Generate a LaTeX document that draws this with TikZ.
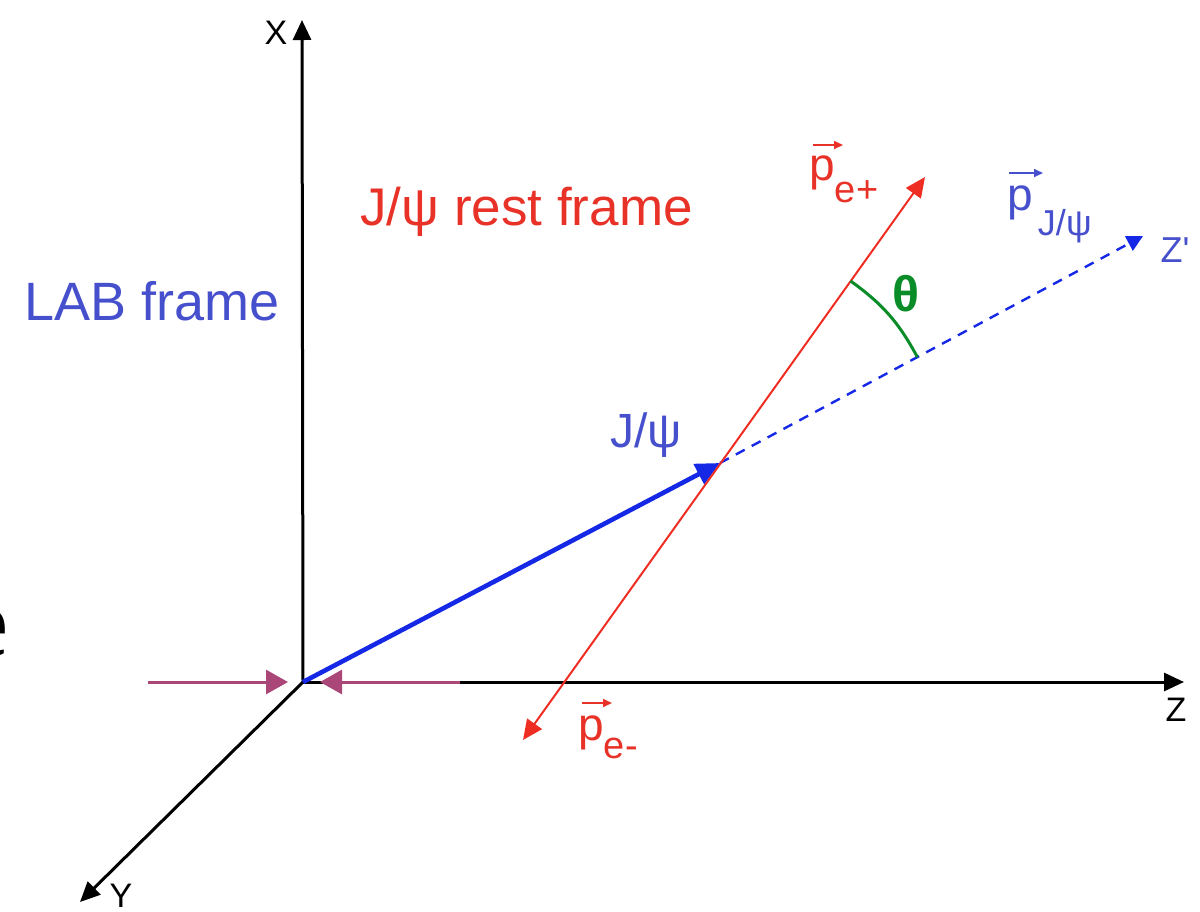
\documentclass[tikz,border=0pt]{standalone}
\usepackage{fontspec}
\setmainfont{Liberation Sans}
\newfontfamily\serifE{Liberation Serif}
\usetikzlibrary{arrows.meta,calc}
\definecolor{axred}{RGB}{238,45,35}
\definecolor{txtred}{RGB}{232,50,40}
\definecolor{labblue}{RGB}{70,80,205}
\definecolor{arrblue}{RGB}{20,40,230}
\definecolor{thgreen}{RGB}{10,140,40}
\definecolor{beampink}{RGB}{170,70,120}
\newcommand{\fs}[1]{\fontsize{#1}{#1}\selectfont}
\begin{document}
\begin{tikzpicture}[x=0.5pt,y=-0.5pt,
  axis/.style={black, line width=1.5pt, -{Triangle[length=10pt,width=9pt]}},
  beam/.style={beampink, line width=1.5pt, -{Triangle[length=11pt,width=12pt]}},
  jpsi/.style={arrblue, line width=2.3pt, -{Triangle[length=12pt,width=11pt]}},
  zprime/.style={arrblue, line width=1.2pt, dash pattern=on 5pt off 4pt, -{Triangle[length=8pt,width=8pt]}},
  elec/.style={axred, line width=1pt, {Triangle[length=10pt,width=9pt]}-{Triangle[length=10pt,width=9pt]}},
  vecarrow/.style={line width=0.8pt, -{Triangle[length=4.5pt,width=4pt]}},
  lbl/.style={inner sep=0pt, anchor=base west}
]
\useasboundingbox (0,0) rectangle (1200,911);
% points
\coordinate (O) at (303,682);
\coordinate (Xt) at (302,20);
\coordinate (Zt) at (1184,682);
\coordinate (Yt) at (80,902);
\coordinate (P) at (720,463);
\coordinate (Zp) at (1143,236);
\coordinate (Ep) at (925,177);
\coordinate (Em) at (523,740);
\coordinate (BL) at (148,682);
\coordinate (BLt) at (288,682);
\coordinate (BR) at (460,682);
\coordinate (BRt) at (320,682);
% axes
\draw[axis] (O) -- (Xt);
\draw[axis] (O) -- (Zt);
\draw[axis] (O) -- (Yt);
% beams
\draw[beam] (BL) -- (BLt);
\draw[beam] (BR) -- (BRt);
% Z' direction
\draw[zprime] (P) -- (Zp);
% J/psi momentum
\draw[jpsi] (O) -- (P);
% electrons
\draw[elec] (Em) -- (Ep);
% theta arc
\coordinate (A) at ($(P)!112pt!(Ep)$);
\coordinate (B) at ($(P)!112pt!(Zp)$);
\draw[thgreen, line width=1.5pt] (A) to[bend left=13] (B);
% labels
\node[black, font=\fs{17}] (xl) at (276,33) {X};
\node[black, font=\fs{17}] (zl) at (1176,710) {Z};
\node[black, font=\fs{17}] (yl) at (121,896) {Y};
\node[labblue, font=\fs{18}] (zpl) at (1175,250) {Z\textquotesingle};
\node[txtred, lbl, font=\fs{26.5}] (rest) at (360,225) {J/ψ rest frame};
\node[labblue, lbl, font=\fs{27}] (lab) at (24,320) {LAB frame};
\node[labblue, lbl, font=\fs{24}] (jl) at (610,447) {J/ψ};
\node[thgreen, font=\bfseries\fs{25}] (th) at (906,294) {θ};
\node[txtred, lbl, font=\fs{23}] (pep) at (809,180) {p\raisebox{-11pt}{\fs{19}e+}};
\draw[txtred, vecarrow] ([shift={(2pt,17.5pt)}]pep.base west) -- ++(15pt,0pt);
\node[txtred, lbl, font=\fs{23}] (pem) at (578,740) {p\raisebox{-9pt}{\fs{19}e-}};
\draw[txtred, vecarrow] ([shift={(2pt,18.5pt)}]pem.base west) -- ++(15pt,0pt);
\node[labblue, lbl, font=\fs{23}] (pjp) at (1007,210) {p\kern2.5pt\raisebox{-12.5pt}{\fs{18}J/ψ}};
\draw[labblue, vecarrow] ([shift={(1pt,18.5pt)}]pjp.base west) -- ++(17pt,0pt);
% clipped glyph at left edge
\node[black, inner sep=0pt, anchor=base east, font=\serifE\bfseries\fs{50}] (edge) at (8,656) {e};
\end{tikzpicture}
\end{document}
